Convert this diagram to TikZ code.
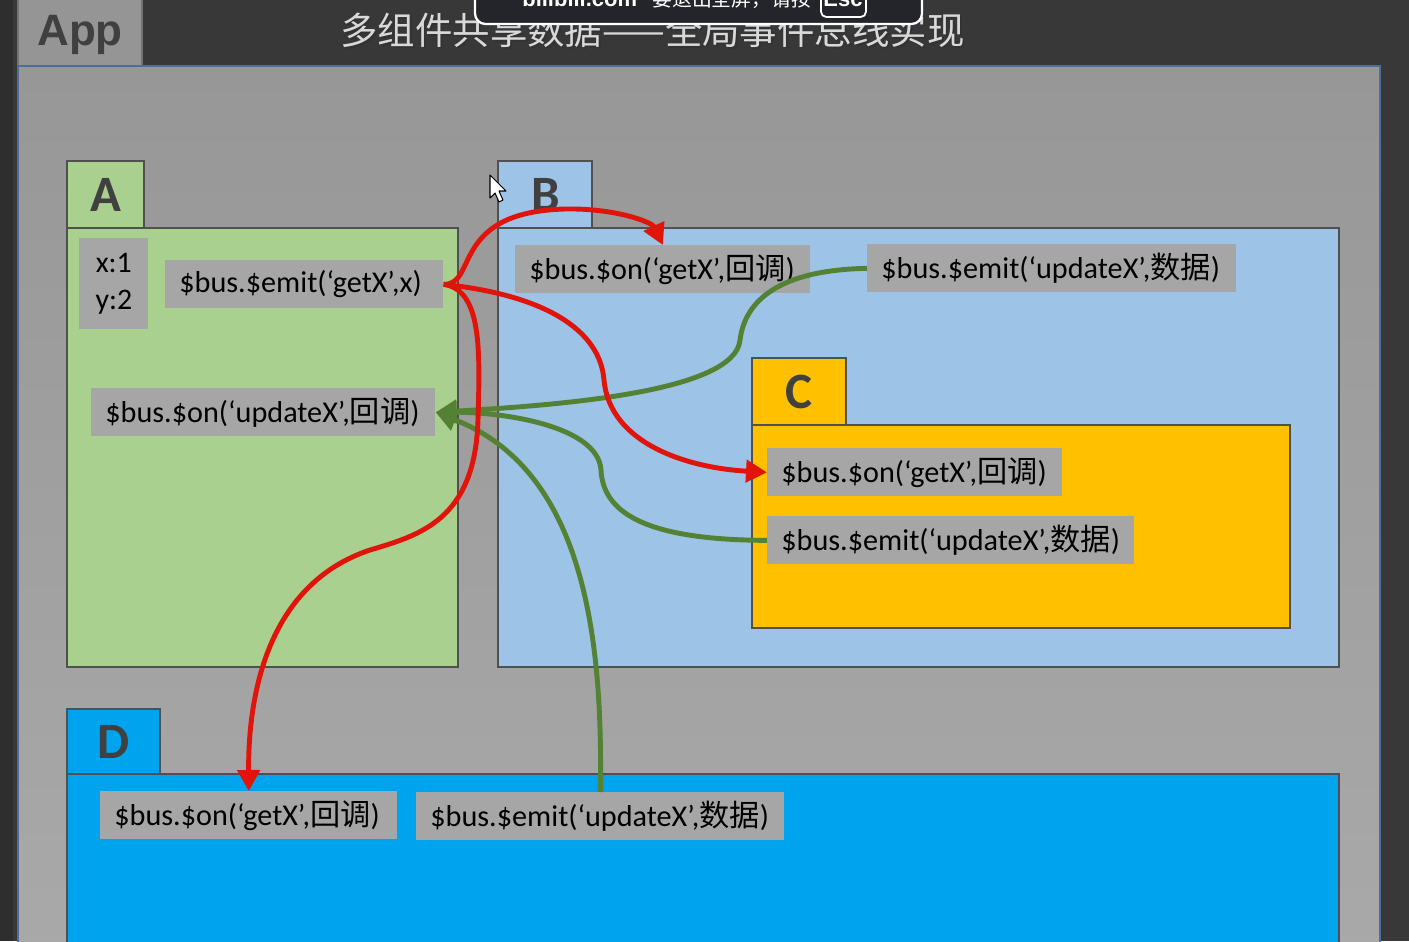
\documentclass[tikz,border=0pt]{standalone}
\usepackage{fontspec}
\setmainfont{Carlito}
\newfontfamily\cjk{Noto Sans CJK SC}
\newfontfamily\arialf{Liberation Sans}
\usetikzlibrary{arrows.meta}
\definecolor{bgdark}{HTML}{383838}
\definecolor{bgstrip}{HTML}{2E2E2E}
\definecolor{appgrayA}{HTML}{979797}
\definecolor{appgrayB}{HTML}{A9A9A9}
\definecolor{appborder}{HTML}{4F6D99}
\definecolor{tabgray}{HTML}{959595}
\definecolor{agreen}{HTML}{A9D08E}
\definecolor{bblue}{HTML}{9DC3E6}
\definecolor{corange}{HTML}{FFC000}
\definecolor{dblue}{HTML}{00A3EE}
\definecolor{lblgray}{HTML}{A6A6A6}
\definecolor{boxline}{HTML}{505050}
\definecolor{letter}{HTML}{404040}
\definecolor{redarr}{HTML}{E0140A}
\definecolor{greenarr}{HTML}{548235}
\definecolor{titlegray}{HTML}{D9D9D9}
\definecolor{overlay}{HTML}{23252B}
\tikzset{
  box/.style={draw=boxline, line width=0.9pt},
  lbl/.style={fill=lblgray, inner xsep=0.28cm, inner ysep=0pt, minimum height=0.96cm,
    align=left, anchor=north west, font=\fontsize{17.2}{20}\selectfont, text=black},
  tabletter/.style={font=\fontsize{29}{32}\selectfont\bfseries, text=letter},
  redline/.style={draw=redarr, line width=2.8pt, -{Triangle[length=0.42cm,width=0.44cm]}},
  greenline/.style={draw=greenarr, line width=2.8pt, -{Triangle[length=0.42cm,width=0.44cm]}},
  ovltext/.style={text=white, anchor=west, inner sep=0pt},
}
\begin{document}
\begin{tikzpicture}[x=0.02cm, y=-0.02cm]
\useasboundingbox (0,0) rectangle (1409,941);
\clip (0,0) rectangle (1409,941);
% background
\fill[bgdark] (0,0) rectangle (1409,941);
\fill[bgstrip] (0,0) rectangle (13,941);
% App tab and body
\draw[fill=tabgray, draw=black!55, line width=0.8pt] (18,-5) rectangle (142,66);
\node[font=\arialf\fontsize{25}{30}\selectfont\bfseries, text=letter] (applbl) at (80,35) {App};
\shade[top color=appgrayA, bottom color=appgrayB] (18,66) rectangle (1380,960);
\draw[draw=appborder, line width=0.9pt] (18,66) rectangle (1380,960);
% title
\node[font=\cjk\fontsize{21.3}{24}\selectfont, text=black!80, anchor=west, inner sep=0pt] at (342,32) {多组件共享数据——全局事件总线实现};
\node[font=\cjk\fontsize{21.3}{24}\selectfont, text=titlegray, anchor=west, inner sep=0pt] (title) at (340,30) {多组件共享数据——全局事件总线实现};
% overlay
\draw[fill=overlay, draw=white!80, line width=1.3pt, rounded corners=6pt] (475,-20) rectangle (922,24);
\node[ovltext, font=\arialf\fontsize{12.5}{14}\selectfont\bfseries] (ovl1) at (522,-1) {bilibili.com};
\node[ovltext, font=\cjk\fontsize{11}{14}\selectfont, text=white!60] (ovl2) at (636,-1) {·};
\node[ovltext, font=\cjk\fontsize{11.3}{14}\selectfont] (ovl3) at (652,-1) {要退出全屏，请按};
\draw[draw=white!85, line width=1pt, rounded corners=3pt] (821,-20) rectangle (866,17);
\node[font=\arialf\fontsize{12.5}{14}\selectfont\bfseries, text=white, inner sep=0pt] (ovl4) at (843,-1) {Esc};
% A
\draw[box, fill=agreen] (67,161) rectangle (144,228);
\draw[box, fill=agreen] (67,228) rectangle (458,667);
\node[tabletter] (la) at (106,195) {A};
% B
\draw[box, fill=bblue] (498,161) rectangle (592,228);
\draw[box, fill=bblue] (498,228) rectangle (1339,667);
\node[tabletter] (lb) at (546,195) {B};
% C
\draw[box, fill=corange] (752,358) rectangle (846,425);
\draw[box, fill=corange] (752,425) rectangle (1290,628);
\node[tabletter] (lc) at (799,392) {C};
% D
\draw[box, fill=dblue] (67,709) rectangle (160,774);
\draw[box, fill=dblue] (67,774) rectangle (1339,960);
\node[tabletter] (ld) at (114,742) {D};
% labels
\node[fill=lblgray, anchor=north west, minimum width=1.38cm, minimum height=1.82cm, inner sep=0pt,
  align=center, font=\fontsize{17}{21.5}\selectfont] (xy) at (79,238) {x:1\\y:2};
\node[lbl, text width=5.00cm] (aemit) at (165,260) {\$bus.\$emit(‘getX’,x)};
\node[lbl, text width=6.32cm] (aon) at (91,388) {\$bus.\$on(‘updateX’,{\cjk 回调})};
\node[lbl, text width=5.34cm] (bon) at (515,245) {\$bus.\$on(‘getX’,{\cjk 回调})};
\node[lbl, text width=6.82cm] (bemit) at (867,244) {\$bus.\$emit(‘updateX’,{\cjk 数据})};
\node[lbl, text width=5.34cm] (con) at (767,448) {\$bus.\$on(‘getX’,{\cjk 回调})};
\node[lbl, text width=6.78cm] (cemit) at (767,516) {\$bus.\$emit(‘updateX’,{\cjk 数据})};
\node[lbl, text width=5.38cm] (don) at (100,791) {\$bus.\$on(‘getX’,{\cjk 回调})};
\node[lbl, text width=6.80cm] (demit) at (416,792) {\$bus.\$emit(‘updateX’,{\cjk 数据})};
% green arrows
\draw[greenline] (bemit.west) .. controls (780,270) and (745,300) .. (740,340)
  .. controls (735,392) and (560,405) .. (aon.east);
\draw[greenline] (cemit.west) .. controls (640,540) and (603,510) .. (601,470)
  .. controls (598,425) and (500,412) .. (aon.east);
\draw[greenline] (demit.north) .. controls (603,640) and (585,470) .. (aon.east);
% red arrows
\draw[redline] (aemit.east) .. controls (478,285) and (450,212) .. (565,209)
  .. controls (615,208) and (652,222) .. (bon.north);
\draw[redline] (aemit.east) .. controls (545,295) and (600,330) .. (604,380)
  .. controls (610,445) and (690,468) .. (con.west);
\draw[redline] (aemit.east) .. controls (482,290) and (480,350) .. (478,420)
  .. controls (475,520) and (420,535) .. (370,550)
  .. controls (265,585) and (248,700) .. (don.north);
% cursor
\draw[fill=white, draw=black, line width=0.6pt, line join=round] (490,175) -- (490,198) -- (495,193) -- (499,202) -- (503,200) -- (499,191) -- (506,191) -- cycle;
\end{tikzpicture}
\end{document}
